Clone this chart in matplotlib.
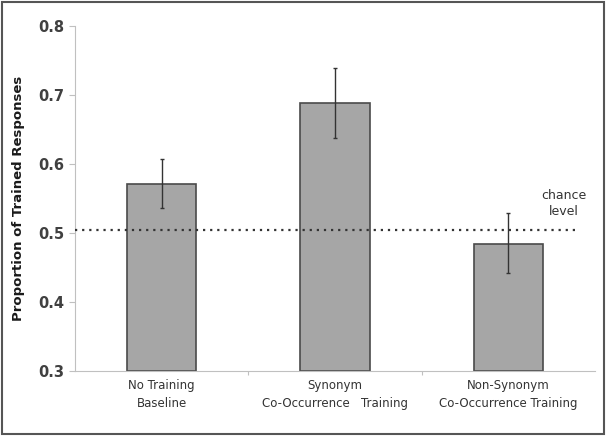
import numpy as np
import matplotlib.pyplot as plt
from matplotlib.patches import Rectangle

# data
categories = ["No Training\nBaseline",
              "Synonym\nCo-Occurrence   Training",
              "Non-Synonym\nCo-Occurrence Training"]
means = [0.571, 0.688, 0.484]
err_hi = [0.607, 0.740, 0.529]
err_lo = [0.536, 0.638, 0.442]
chance = 0.504
yticks = [0.3, 0.4, 0.5, 0.6, 0.7, 0.8]

fig = plt.figure(figsize=(6.06, 4.36), dpi=100)
ax = fig.add_axes([0.124, 0.149, 0.858, 0.791])

x = np.arange(len(categories))
means = np.array(means)
yerr = [means - np.array(err_lo), np.array(err_hi) - means]
ax.bar(x, means - 0.3, bottom=0.3, width=0.4, color="#a6a6a6",
       edgecolor="#4a4a4a", linewidth=1.2, zorder=2)
ax.errorbar(x, means, yerr=yerr, fmt="none", ecolor="#333333",
            elinewidth=1, capsize=1.5, capthick=1, zorder=3)

ax.plot([-0.5, 2.4], [chance, chance], linestyle=(0, (1, 2.2)),
        color="#333333", linewidth=1.6, zorder=4)
ax.text(2.32, 0.543, "chance\nlevel", ha="center", va="center",
        fontsize=9, color="#333333", linespacing=1.3)

ax.set_xlim(-0.5, 2.5)
ax.set_ylim(0.3, 0.8)
ax.set_yticks(yticks)
ax.set_yticklabels([f"{v:.1f}" for v in yticks], fontsize=10.5,
                   fontweight="bold", color="#404040")
ax.set_xticks([0.5, 1.5])
ax.set_xticklabels([])
ax.tick_params(axis="x", length=3, color="#c0c0c0", direction="out")
ax.tick_params(axis="y", length=4, color="#c0c0c0", direction="out")
for i, lab in enumerate(categories):
    ax.text(i, 0.288, lab, ha="center", va="top", fontsize=8.5,
            color="#333333", transform=ax.transData, linespacing=1.5)

ax.set_ylabel("Proportion of Trained Responses", fontsize=9.5,
              fontweight="bold", color="#1a1a1a", labelpad=10)

for s in ["top", "right"]:
    ax.spines[s].set_visible(False)
for s in ["left", "bottom"]:
    ax.spines[s].set_color("#c0c0c0")

# frame around picture
fig.patches.append(Rectangle((0.003, 0.004), 0.994, 0.992, transform=fig.transFigure,
                             fill=False, edgecolor="#555555", linewidth=1.5))

fig.savefig("out.png", dpi=100)
